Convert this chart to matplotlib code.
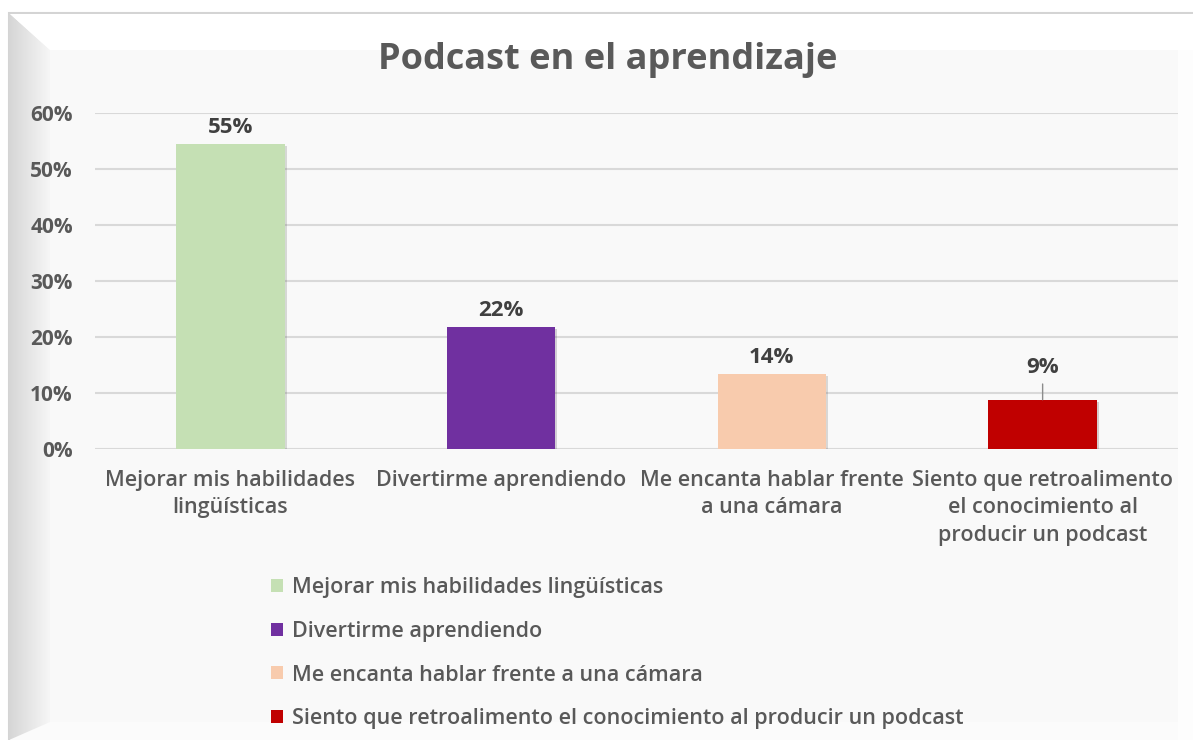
import numpy as np
import matplotlib
matplotlib.use("Agg")
import matplotlib.pyplot as plt
import matplotlib.patheffects as pe
from matplotlib.patches import Patch, Polygon, Rectangle

# --- Data ---
categories = [
    "Mejorar mis habilidades lingüísticas",
    "Divertirme aprendiendo",
    "Me encanta hablar frente a una cámara",
    "Siento que retroalimento el conocimiento al producir un podcast",
]
tick_labels = [
    "Mejorar mis habilidades\nlingüísticas",
    "Divertirme aprendiendo",
    "Me encanta hablar frente\na una cámara",
    "Siento que retroalimento\nel conocimiento al\nproducir un podcast",
]
values = [0.545, 0.218, 0.134, 0.088]
value_labels = ["55%", "22%", "14%", "9%"]
colors = ["#c5e0b4", "#7030a0", "#f8cbad", "#c00000"]
y_ticks = [0, 0.1, 0.2, 0.3, 0.4, 0.5, 0.6]

W, H = 1193, 740
fig = plt.figure(figsize=(W / 100, H / 100), dpi=100)
fig.patch.set_facecolor("white")

# background frame with a bevel look (pixel coords)
bg = fig.add_axes([0, 0, 1, 1], zorder=-10)
bg.set_xlim(0, W)
bg.set_ylim(H, 0)
bg.axis("off")
bg.add_patch(Rectangle((9, 13), W, H, facecolor="#fbfbfb", edgecolor="#d4d4d4", lw=1.5))
# left bevel gradient
grad = np.linspace(0, 1, 64).reshape(1, -1)
im = bg.imshow(grad, extent=(9, 50, H, 13), cmap=matplotlib.colors.LinearSegmentedColormap.from_list(
    "bev", ["#d6d6d6", "#f6f6f6"]), aspect="auto", zorder=1)
clip = Polygon([(9, 13), (50, 50), (50, 722), (9, H)], closed=True, transform=bg.transData)
im.set_clip_path(clip)
# top bevel (white)
bg.add_patch(Polygon([(10, 14), (W, 14), (W, 50), (50, 50)], closed=True, facecolor="#ffffff", edgecolor="none", zorder=2))
# inner panel
bg.add_patch(Rectangle((50, 50), 1128, 672, facecolor="#f9f9f9", edgecolor="none", zorder=2))
bg.add_patch(Rectangle((1178, 50), W - 1178, H, facecolor="#fdfdfd", edgecolor="none", zorder=2))

ax = fig.add_axes([95 / W, 1 - 449 / H, (1178 - 95) / W, (449 - 113) / H])
ax.set_facecolor("none")

x = np.arange(len(categories))
bars = ax.bar(x, values, width=0.4, color=colors, zorder=3)
for b in bars:
    b.set_path_effects([pe.SimplePatchShadow(offset=(1.5, -1.5), alpha=0.18), pe.Normal()])

ax.set_xlim(-0.5, len(categories) - 0.5)
ax.set_ylim(0, 0.6)
ax.set_yticks(y_ticks)
ax.set_yticklabels([f"{int(round(t * 100))}%" for t in y_ticks],
                   fontsize=15, fontweight="bold", color="#595959", family="Open Sans")
ax.yaxis.grid(True, color="#d9d9d9", linewidth=1.5, zorder=0)
ax.set_axisbelow(True)
ax.tick_params(axis="y", length=0, pad=16)
ax.tick_params(axis="x", length=0, pad=15)
ax.set_xticks(x)
ax.set_xticklabels(tick_labels, fontsize=15.5, color="#595959", family="Open Sans",
                   fontweight="semibold", linespacing=1.4, va="top")
for s in ax.spines.values():
    s.set_visible(False)

# data labels
for i, (v, lab) in enumerate(zip(values, value_labels)):
    if i == 3:
        ax.annotate(lab, xy=(i, v), xytext=(i, v + 0.038), ha="center", va="bottom",
                    fontsize=16, fontweight="bold", color="#404040", family="Open Sans",
                    arrowprops=dict(arrowstyle="-", color="#8c8c8c", lw=1, shrinkA=2, shrinkB=0))
    else:
        ax.text(i, v + 0.011, lab, ha="center", va="bottom", fontsize=16,
                fontweight="bold", color="#404040", family="Open Sans")

fig.text(608 / W, 1 - 60 / H, "Podcast en el aprendizaje", ha="center", va="center",
         fontsize=26, fontweight="bold", color="#595959", family="Open Sans")

handles = [Patch(facecolor=c, edgecolor="none") for c in colors]
leg = fig.legend(handles, categories, loc="upper left", bbox_to_anchor=(252 / W, 1 - 558 / H),
                 frameon=False, prop={"family": "Open Sans", "size": 15.5, "weight": "semibold"},
                 handlelength=0.55, handleheight=0.55, handletextpad=0.4, labelspacing=1.05)
for t in leg.get_texts():
    t.set_color("#595959")

fig.savefig("out.png", dpi=100)
